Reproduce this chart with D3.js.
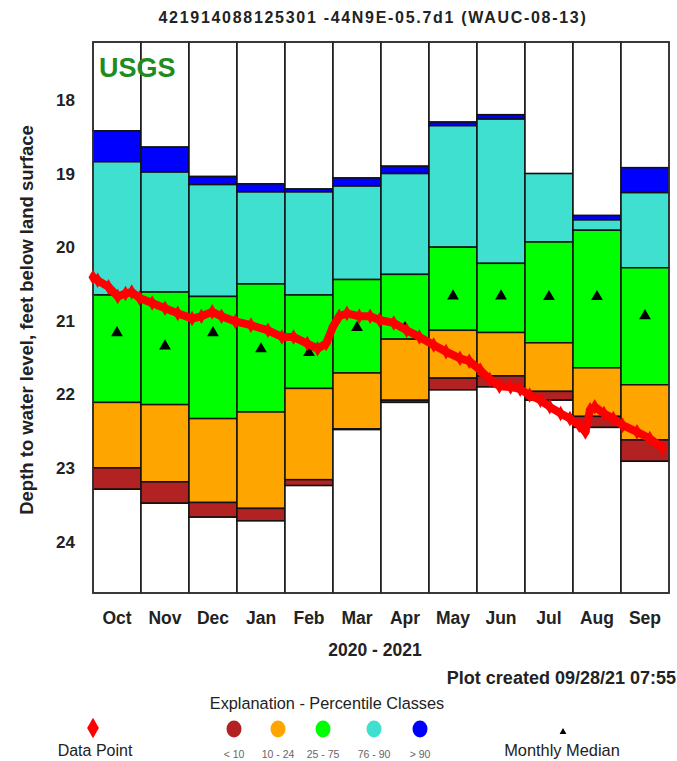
<!DOCTYPE html>
<html><head><meta charset="utf-8">
<script src="https://cdn.jsdelivr.net/npm/d3@7"></script>
<style>
body{margin:0;background:#fff}
svg{display:block}
text{font-family:"Liberation Sans",Arial,Helvetica,sans-serif}
</style>
</head><body>
<svg id="chart" width="677" height="761"></svg>
<script>
// ---------- DATA ----------
const months = ["Oct","Nov","Dec","Jan","Feb","Mar","Apr","May","Jun","Jul","Aug","Sep"];
const monthStarts = ["2020-10-01","2020-11-01","2020-12-01","2021-01-01","2021-02-01","2021-03-01",
  "2021-04-01","2021-05-01","2021-06-01","2021-07-01","2021-08-01","2021-09-01","2021-10-01"];
// percentile boundaries, depth in feet (smaller = higher water level)
const pMax   = [18.42, 18.64, 19.04, 19.14, 19.21, 19.06, 18.90, 18.30, 18.20, 19.00, 19.57, 18.92];
const p90    = [18.84, 18.98, 19.15, 19.25, 19.25, 19.17, 19.00, 18.35, 18.26, 19.00, 19.63, 19.26];
const p75    = [20.65, 20.61, 20.67, 20.50, 20.65, 20.44, 20.37, 20.00, 20.22, 19.93, 19.77, 20.28];
const p25    = [22.11, 22.14, 22.33, 22.24, 21.92, 21.71, 21.25, 21.13, 21.16, 21.30, 21.64, 21.87];
const p10    = [23.00, 23.19, 23.47, 23.55, 23.16, 22.47, 22.08, 21.78, 21.75, 21.96, 22.30, 22.62];
const pMin   = [23.29, 23.48, 23.67, 23.72, 23.24, 22.48, 22.11, 21.94, 21.90, 22.08, 22.45, 22.91];
const median = [21.15, 21.33, 21.15, 21.37, 21.42, 21.08, 21.08, 20.65, 20.65, 20.66, 20.66, 20.92];

const obsDates = ["2020-10-01","2020-10-04","2020-10-11","2020-10-17","2020-10-22","2020-10-26","2020-10-31",
  "2020-11-08","2020-11-16","2020-11-24","2020-12-03","2020-12-09","2020-12-16","2020-12-22","2020-12-31",
  "2021-01-10","2021-01-21","2021-01-30","2021-02-06","2021-02-14","2021-02-20","2021-02-25",
  "2021-03-01","2021-03-05","2021-03-10","2021-03-18","2021-03-25","2021-03-31",
  "2021-04-09","2021-04-17","2021-04-25","2021-05-04","2021-05-12","2021-05-21","2021-05-27",
  "2021-06-03","2021-06-09","2021-06-15","2021-06-22","2021-06-28",
  "2021-07-04","2021-07-11","2021-07-17","2021-07-24","2021-07-30",
  "2021-08-05","2021-08-09","2021-08-12","2021-08-15","2021-08-21","2021-08-27",
  "2021-09-02","2021-09-11","2021-09-19","2021-09-27"];
const obsValues = [20.41,20.45,20.54,20.67,20.63,20.61,20.69,
  20.76,20.83,20.90,20.97,20.94,20.88,20.94,21.01,
  21.06,21.13,21.22,21.22,21.31,21.38,21.31,
  21.08,20.94,20.90,20.94,20.94,20.99,
  21.03,21.13,21.22,21.33,21.42,21.51,21.55,
  21.67,21.80,21.89,21.90,21.93,
  22.01,22.08,22.17,22.26,22.33,
  22.42,22.51,22.21,22.17,22.26,22.33,
  22.42,22.51,22.60,22.73];

const yTicks = [18, 19, 20, 21, 22, 23, 24];
const legendClasses = ["< 10", "10 - 24", "25 - 75", "76 - 90", "> 90"];
const classColors = ["#b22222", "#ffa500", "#00ff00", "#40e0d0", "#0000ff"];

// ---------- CHART ----------
const svg = d3.select("#chart");
const L = 93, R = 669, T = 42, B = 593;
const parse = d3.timeParse("%Y-%m-%d");

const x = d3.scaleTime()
  .domain(monthStarts.map(parse))
  .range(monthStarts.map((d, i) => L + i * (R - L) / 12));
const xb = d3.scaleBand().domain(months).range([L, R]);
const y = d3.scaleLinear().domain([17.212, 24.70]).range([T, B]);

svg.append("rect").attr("x", L).attr("y", T).attr("width", R - L).attr("height", B - T)
  .attr("fill", "#fff");

// bars
const segs = [];
months.forEach((m, i) => {
  segs.push({m, top: y.domain()[0], bot: pMax[i], c: "#fff"});
  segs.push({m, top: pMax[i], bot: p90[i], c: classColors[4]});
  segs.push({m, top: p90[i], bot: p75[i], c: classColors[3]});
  segs.push({m, top: p75[i], bot: p25[i], c: classColors[2]});
  segs.push({m, top: p25[i], bot: p10[i], c: classColors[1]});
  segs.push({m, top: p10[i], bot: pMin[i], c: classColors[0]});
  segs.push({m, top: pMin[i], bot: y.domain()[1], c: "#fff"});
});
svg.append("g").selectAll("rect").data(segs).join("rect")
  .attr("x", d => xb(d.m))
  .attr("width", xb.bandwidth())
  .attr("y", d => y(d.top))
  .attr("height", d => Math.max(0, y(d.bot) - y(d.top)))
  .attr("fill", d => d.c)
  .attr("stroke", "#111").attr("stroke-width", 1.5);

// frame
svg.append("rect").attr("x", L).attr("y", T).attr("width", R - L).attr("height", B - T)
  .attr("fill", "none").attr("stroke", "#333").attr("stroke-width", 1.5);

// medians
const tri = d3.symbol().type(d3.symbolTriangle).size(60);
svg.append("g").selectAll("path").data(median).join("path")
  .attr("d", tri)
  .attr("transform", (d, i) => `translate(${xb(months[i]) + xb.bandwidth() / 2},${y(d) + 1})`)
  .attr("fill", "#000");

// data line
const obs = obsDates.map((d, i) => ({date: parse(d), v: obsValues[i]}));
svg.append("path").datum(obs)
  .attr("d", d3.line().x(d => x(d.date)).y(d => y(d.v)))
  .attr("fill", "none").attr("stroke", "#ff0000").attr("stroke-width", 8)
  .attr("stroke-linejoin", "round");
const dia = d3.symbol().type(d3.symbolDiamond).size(70);
svg.append("g").selectAll("path").data(obs).join("path")
  .attr("d", dia)
  .attr("transform", d => `translate(${x(d.date)},${y(d.v)})`)
  .attr("fill", "#ff0000");

// USGS
svg.append("text").attr("x", 99).attr("y", 77).text("USGS")
  .attr("font-size", 27).attr("font-weight", "bold").attr("fill", "#1f8c1f");

// y tick labels
svg.append("g").selectAll("text").data(yTicks).join("text")
  .attr("x", 75).attr("y", d => y(d)).attr("dy", "0.36em")
  .attr("text-anchor", "end").attr("font-size", 17).attr("font-weight", "bold")
  .attr("fill", "#222").text(d => d);

// month labels
svg.append("g").selectAll("text").data(months).join("text")
  .attr("x", d => xb(d) + xb.bandwidth() / 2).attr("y", 624)
  .attr("text-anchor", "middle").attr("font-size", 17.5).attr("font-weight", "bold")
  .attr("fill", "#222").text(d => d);

// titles
svg.append("text").attr("x", 373).attr("y", 23).attr("text-anchor", "middle")
  .attr("font-size", 16).attr("font-weight", "bold").attr("fill", "#222")
  .attr("letter-spacing", 1.7)
  .text("421914088125301 -44N9E-05.7d1 (WAUC-08-13)");
svg.append("text").attr("x", 375).attr("y", 656).attr("text-anchor", "middle")
  .attr("font-size", 17.5).attr("font-weight", "bold").attr("fill", "#222")
  .text("2020 - 2021");
svg.append("text").attr("x", 676).attr("y", 684).attr("text-anchor", "end")
  .attr("font-size", 18).attr("font-weight", "bold").attr("fill", "#222")
  .text("Plot created 09/28/21 07:55");
svg.append("text").attr("transform", "translate(33,320) rotate(-90)")
  .attr("text-anchor", "middle").attr("font-size", 18.5).attr("font-weight", "bold")
  .attr("fill", "#222").text("Depth to water level, feet below land surface");

// legend
svg.append("text").attr("x", 327).attr("y", 709).attr("text-anchor", "middle")
  .attr("font-size", 16.3).attr("fill", "#222").text("Explanation - Percentile Classes");
svg.append("path").attr("d", d3.symbol().type(d3.symbolDiamond).size(120))
  .attr("transform", "translate(93,728)").attr("fill", "#ff0000");
svg.append("text").attr("x", 95).attr("y", 756).attr("text-anchor", "middle")
  .attr("font-size", 16).attr("fill", "#222").text("Data Point");
const lx = [234, 278, 323, 374, 420];
const lg = svg.append("g").selectAll("g").data(legendClasses).join("g")
  .attr("transform", (d, i) => `translate(${lx[i]},0)`);
lg.append("ellipse").attr("cx", 0).attr("cy", 729).attr("rx", 7.5).attr("ry", 8.5)
  .attr("fill", (d, i) => classColors[i]);
lg.append("text").attr("y", 758).attr("text-anchor", "middle")
  .attr("font-family", "'Liberation Serif','DejaVu Serif',serif")
  .attr("font-size", 10.5).attr("fill", "#666").text(d => d);
svg.append("path").attr("d", d3.symbol().type(d3.symbolTriangle).size(20))
  .attr("transform", "translate(563,732)").attr("fill", "#000");
svg.append("text").attr("x", 562).attr("y", 756).attr("text-anchor", "middle")
  .attr("font-size", 16.4).attr("fill", "#222").text("Monthly Median");
</script>
</body></html>
